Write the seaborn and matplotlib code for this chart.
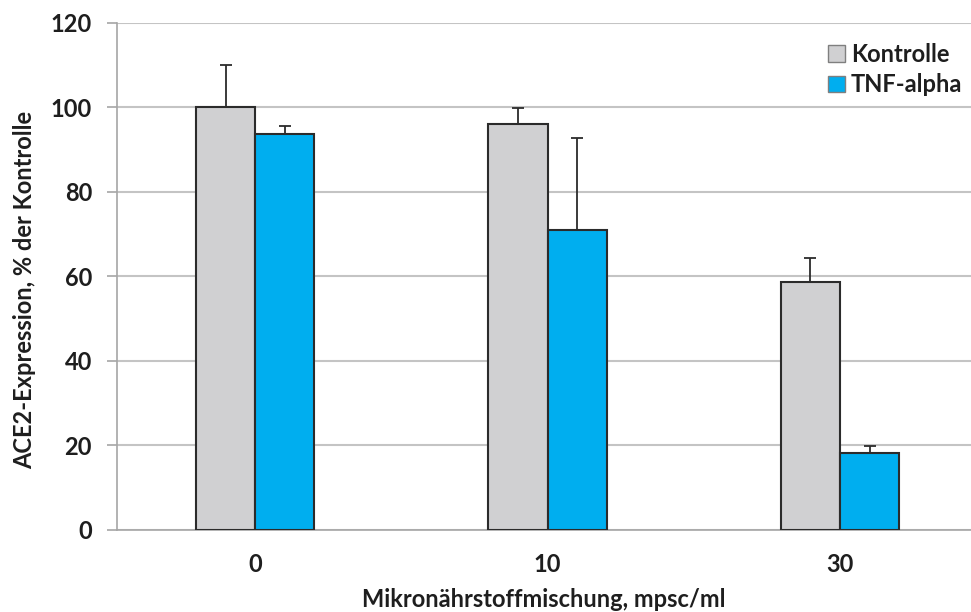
import matplotlib
matplotlib.use("Agg")
import matplotlib.pyplot as plt
import seaborn as sns
import pandas as pd
from matplotlib.patches import Patch

# ---- data ----
categories = ["0", "10", "30"]
series_names = ["Kontrolle", "TNF-alpha"]
kontrolle = [100.0, 96.0, 58.7]
kontrolle_err = [10.0, 3.7, 5.7]
tnf = [93.6, 71.0, 18.2]
tnf_err = [1.9, 21.8, 1.6]
y_ticks = [0, 20, 40, 60, 80, 100, 120]
x_label = "Mikronährstoffmischung, mpsc/ml"
y_label = "ACE2-Expression, % der Kontrolle"

colors = {"Kontrolle": "#D0D0D2", "TNF-alpha": "#00AEEF"}

df = pd.DataFrame({
    "cat": categories * 2,
    "series": [series_names[0]] * 3 + [series_names[1]] * 3,
    "val": kontrolle + tnf,
})
errs = {series_names[0]: kontrolle_err, series_names[1]: tnf_err}

sns.set_style("white")
plt.rcParams["font.family"] = ["Lato", "DejaVu Sans"]
plt.rcParams["font.weight"] = "bold"

FS = 17
TXT = "#1e1e1e"

fig = plt.figure(figsize=(9.71, 6.12), dpi=100)
W, H = 971, 612
ax = fig.add_axes([117 / W, (H - 529.5) / H, (971 - 117) / W, (529.5 - 22.7) / H])

sns.barplot(data=df, x="cat", y="val", hue="series", order=categories,
            hue_order=series_names, palette=colors, width=0.404, gap=0,
            edgecolor="#2b2b2b", linewidth=1.5, saturation=1, ax=ax,
            legend=False, errorbar=None, zorder=3)

for cont, name in zip(ax.containers, series_names):
    for patch, e in zip(cont.patches, errs[name]):
        xc = patch.get_x() + patch.get_width() / 2
        h = patch.get_height()
        ax.errorbar([xc], [h], yerr=[[0], [e]], fmt="none", ecolor="#2b2b2b",
                    elinewidth=1.3, capsize=4.5, capthick=1.3, zorder=4)

ax.set_ylim(0, 120)
ax.set_xlim(-0.472, 2.448)
ax.set_yticks(y_ticks)
ax.set_yticklabels([str(t) for t in y_ticks], fontsize=FS, fontweight="bold", color=TXT)
ax.set_xticks(range(len(categories)))
ax.set_xticklabels(categories, fontsize=FS, fontweight="bold", color=TXT)
ax.set_xticks([-0.472, 0.5, 1.5], minor=True)
ax.tick_params(axis="x", which="major", length=0, pad=17)
ax.tick_params(axis="x", which="minor", length=8, width=1.2, color="#a6a6a6", direction="out")
ax.tick_params(axis="y", length=7, width=1.2, color="#a6a6a6", direction="out", pad=11, left=True)

ax.yaxis.grid(True, color="#c4c4c4", linewidth=1.5, zorder=0)
ax.set_axisbelow(True)
for s in ["top", "right"]:
    ax.spines[s].set_visible(False)
for s in ["left", "bottom"]:
    ax.spines[s].set_color("#a6a6a6")
    ax.spines[s].set_linewidth(1.2)

ax.set_xlabel(x_label, fontsize=FS, fontweight="bold", color=TXT)
ax.set_ylabel(y_label, fontsize=FS, fontweight="bold", color=TXT)
ax.xaxis.set_label_coords(0.5, -(588 - 529.5) / 506.8)
ax.yaxis.set_label_coords(-(117 - 36) / 854, (529.5 - 290) / 506.8)

handles = [Patch(facecolor=colors[n], edgecolor="#7f7f7f", linewidth=1.0) for n in series_names]
leg = ax.legend(handles, series_names, loc="upper right",
                bbox_to_anchor=((962 - 117) / 854, (529.5 - 43) / 506.8),
                borderaxespad=0, borderpad=0, frameon=False,
                prop={"size": FS, "weight": "bold"},
                handlelength=0.7, handleheight=0.7, handletextpad=0.25, labelspacing=0.3)
for t in leg.get_texts():
    t.set_color(TXT)

fig.savefig("out.png", dpi=100)
